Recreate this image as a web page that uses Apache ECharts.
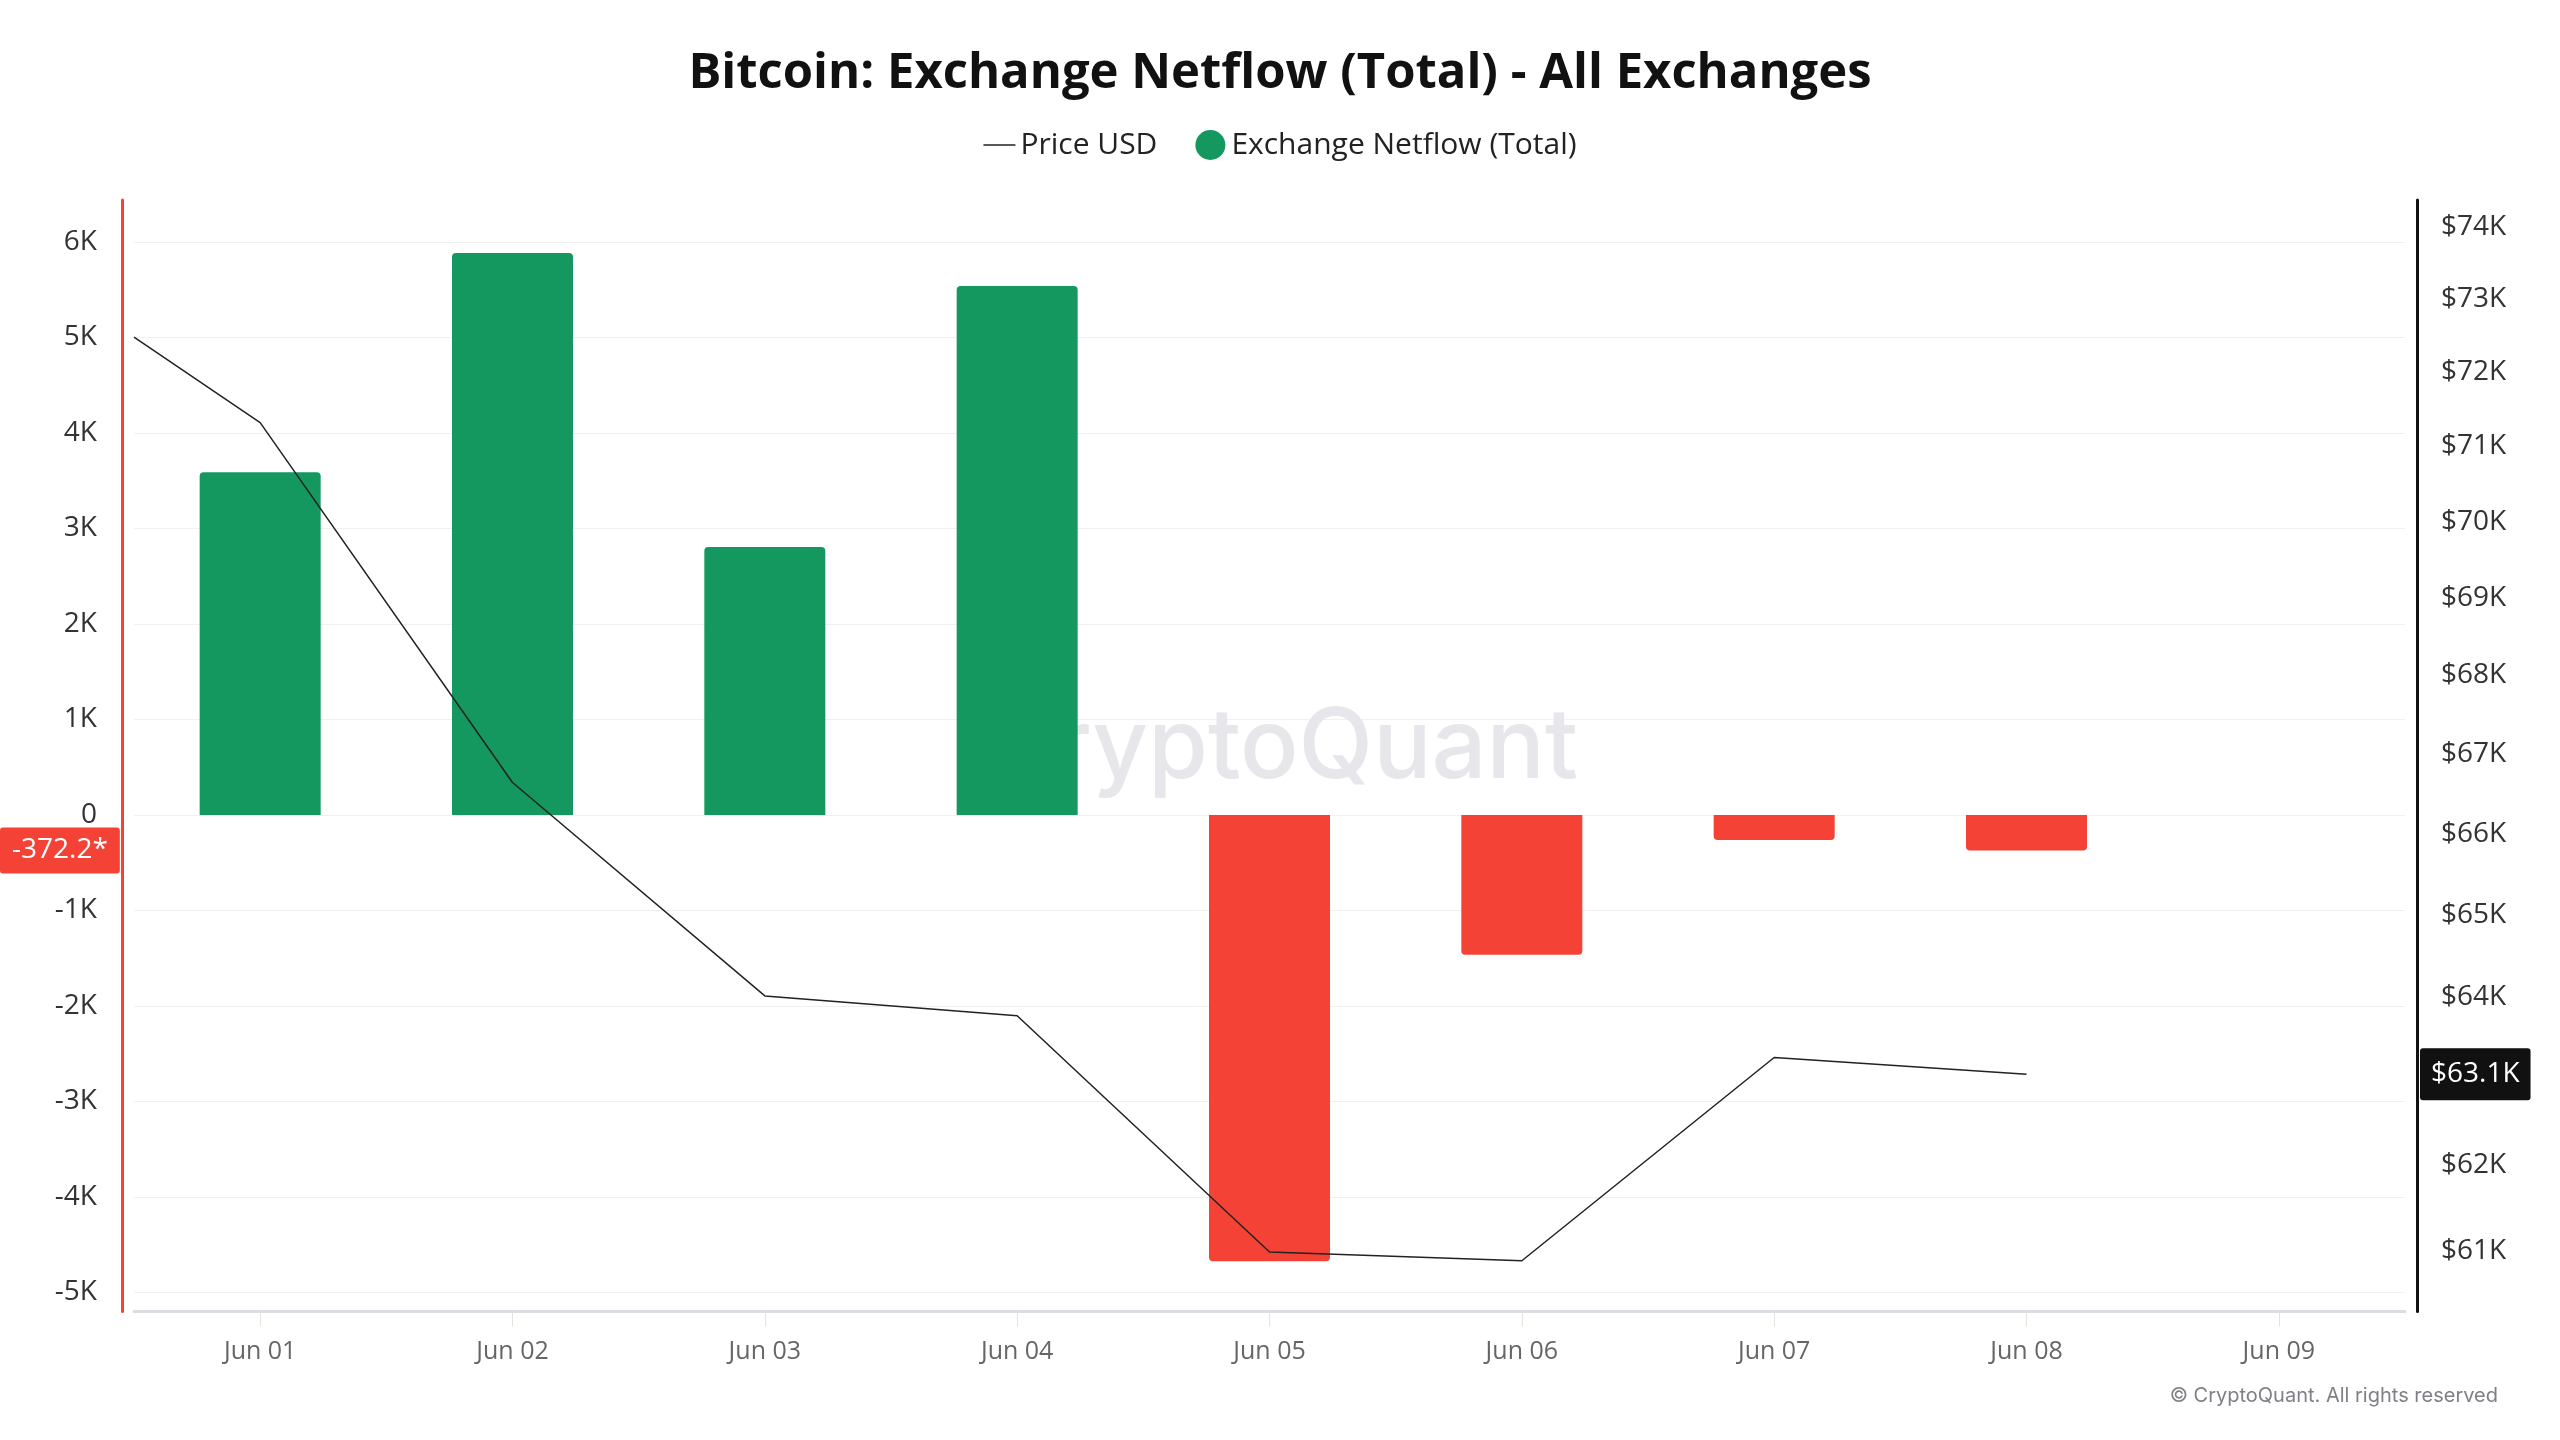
<!DOCTYPE html>
<html><head><meta charset="utf-8">
<script src="https://cdn.jsdelivr.net/npm/echarts@6/dist/echarts.min.js"></script>
<style>html,body{margin:0;padding:0;background:#fff}#c{width:2560px;height:1440px}</style>
</head><body><div id="c"></div>
<script>
// ---- data ----
const netflowDates = ['2024-06-01','2024-06-02','2024-06-03','2024-06-04','2024-06-05','2024-06-06','2024-06-07','2024-06-08'];
const netflowValues = [3590, 5885, 2805, 5540, -4675, -1465, -262, -372.2];
const priceDates = ['2024-05-31 12:00','2024-06-01','2024-06-02','2024-06-03','2024-06-04','2024-06-05','2024-06-06','2024-06-07','2024-06-08'];
const priceValues = [72480, 71320, 66640, 64010, 63770, 60990, 60890, 63270, 63070];
const xTicks = ['2024-06-01','2024-06-02','2024-06-03','2024-06-04','2024-06-05','2024-06-06','2024-06-07','2024-06-08','2024-06-09'];
const leftTicks = [6000, 5000, 4000, 3000, 2000, 1000, 0, -1000, -2000, -3000, -4000, -5000];
const rightTicks = [74000, 73000, 72000, 71000, 70000, 69000, 68000, 67000, 66000, 65000, 64000, 63000, 62000, 61000];
const xMin = '2024-05-31 12:00', xMax = '2024-06-09 12:00';
const leftMin = -5200, leftMax = 6440;
const rightMin = 60310, rightMax = 74380;

// ---- chart ----
const FONT = 'Open Sans';
const GREEN = '#149860', RED = '#f44336';
const months = ['Jan','Feb','Mar','Apr','May','Jun','Jul','Aug','Sep','Oct','Nov','Dec'];
function ts(s){ return Date.parse(s.length === 10 ? s + 'T00:00:00Z' : s.replace(' ', 'T') + ':00Z'); }
function fmtDay(v){ const d = new Date(v); return months[d.getUTCMonth()] + ' ' + String(d.getUTCDate()).padStart(2,'0'); }
function fmtK(v){ return v === 0 ? '0' : (Math.round(v/100)/10) + 'K'; }
function fmtUsd(v){ return '$' + Math.round(v/1000) + 'K'; }

const latestNetflow = netflowValues[netflowValues.length - 1];
const latestPrice = priceValues[priceValues.length - 1];
const xTickNums = xTicks.map(ts);

const barData = netflowDates.map((d, i) => {
  const v = netflowValues[i];
  return { value: [ts(d), v], itemStyle: { color: v >= 0 ? GREEN : RED, borderRadius: v >= 0 ? [4,4,0,0] : [0,0,4,4] } };
});
const lineData = priceDates.map((d, i) => [ts(d), priceValues[i]]);

const chart = echarts.init(document.getElementById('c'));
chart.setOption({
  animation: false,
  backgroundColor: '#fff',
  title: {
    text: 'Bitcoin: Exchange Netflow (Total) - All Exchanges',
    left: 'center', top: 45,
    textStyle: { fontFamily: FONT, fontWeight: 'bold', fontSize: 49, color: '#111' }
  },
  legend: {
    top: 125, left: 'center', itemWidth: 32, itemHeight: 30, itemGap: 38, itemTextGap: 10,
    textStyle: { fontFamily: FONT, fontSize: 30, color: '#222' },
    data: [
      { name: 'Price USD', icon: 'path://M0,0H32V1.6H0Z' },
      { name: 'Exchange Netflow (Total)', icon: 'circle' }
    ]
  },
  grid: { left: 134, right: 155, top: 200, bottom: 128.5 },
  xAxis: {
    type: 'value', min: ts(xMin), max: ts(xMax), scale: true,
    axisLine: { onZero: false, lineStyle: { color: '#dcdce4', width: 3 } },
    axisTick: { show: true, customValues: xTickNums, length: 15, lineStyle: { color: '#e3e3e3', width: 1 } },
    axisLabel: { customValues: xTickNums, formatter: fmtDay, margin: 28, fontFamily: FONT, fontSize: 25, color: '#666' },
    splitLine: { show: false }
  },
  yAxis: [
    {
      type: 'value', position: 'left', offset: 12, min: leftMin, max: leftMax,
      axisLine: { show: true, onZero: false, lineStyle: { color: RED, width: 3 } },
      axisTick: { show: false, customValues: leftTicks },
      axisLabel: { customValues: leftTicks, formatter: fmtK, margin: 25, fontFamily: FONT, fontSize: 28, color: '#333' },
      splitLine: { show: true, lineStyle: { color: '#f0f0f0', width: 1 } },
      axisPointer: {
        show: true, type: 'line', value: latestNetflow, status: 'show', snap: false, triggerTooltip: false,
        lineStyle: { opacity: 0, width: 0 },
        label: { show: true, formatter: () => latestNetflow + '*', backgroundColor: RED, color: '#fff',
                 fontFamily: FONT, fontSize: 28, padding: [9, 12], margin: 4 }
      }
    },
    {
      type: 'log', logBase: 10, position: 'right', offset: 12, min: rightMin, max: rightMax,
      axisLine: { show: true, onZero: false, lineStyle: { color: '#111', width: 3 } },
      axisTick: { show: false, customValues: rightTicks },
      axisLabel: { customValues: rightTicks, formatter: fmtUsd, margin: 24, fontFamily: FONT, fontSize: 28, color: '#333' },
      splitLine: { show: false },
      axisPointer: {
        show: true, type: 'line', value: latestPrice, status: 'show', snap: false, triggerTooltip: false,
        lineStyle: { opacity: 0, width: 0 },
        label: { show: true, formatter: () => '$' + (Math.round(latestPrice/100)/10) + 'K', backgroundColor: '#111', color: '#fff',
                 fontFamily: FONT, fontSize: 28, padding: [12, 11], margin: 3, borderRadius: 3 }
      }
    }
  ],
  graphic: [
    { type: 'text', left: 'center', top: 700, z: 1, silent: true,
      style: { text: 'CryptoQuant', fill: '#e6e6eb', font: '500 97px Inter' } },
    { type: 'text', right: 62, top: 1386, silent: true,
      style: { text: '© CryptoQuant. All rights reserved', fill: '#7f7f85', font: '20px Inter' } }
  ],
  series: [
    { name: 'Price USD', type: 'line', yAxisIndex: 1, data: lineData, symbol: 'none', clip: true, z: 5,
      color: '#222', lineStyle: { color: '#222', width: 1.5 } },
    { name: 'Exchange Netflow (Total)', type: 'bar', yAxisIndex: 0, data: barData, barWidth: 121, z: 2,
      color: GREEN }
  ]
});
</script></body></html>
